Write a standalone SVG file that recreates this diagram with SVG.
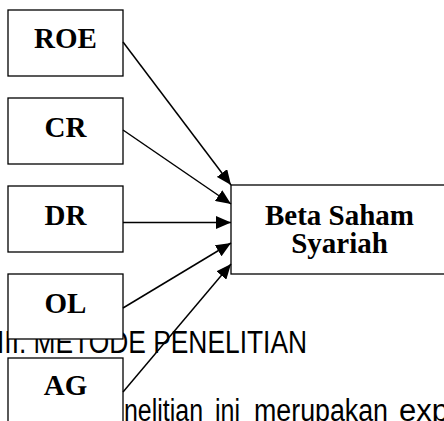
<svg xmlns="http://www.w3.org/2000/svg" width="444" height="421" viewBox="0 0 444 421">
  <defs>
    <marker id="arr" markerUnits="userSpaceOnUse" markerWidth="15" markerHeight="13" viewBox="0 0 15 13" refX="15" refY="6.5" orient="auto">
      <path d="M0,0 L15,6.5 L0,13 Z" fill="#000"/>
    </marker>
    <style>
      .box { fill: #fff; stroke: #000; stroke-width: 1.3; }
      .lbl { font-family: "Liberation Serif", "Times New Roman", serif; font-weight: bold; font-size: 29px; text-anchor: middle; fill: #000; }
      .doc { font-family: "Liberation Sans Narrow", "Liberation Sans", Arial, sans-serif; font-size: 31px; fill: #000; }
      .edge { stroke: #000; stroke-width: 1.5; fill: none; marker-end: url(#arr); }
    </style>
  </defs>
  <rect width="444" height="421" fill="#fff"/>

  <g id="page-text">
    <text class="doc" x="-3" y="353" textLength="310" lengthAdjust="spacingAndGlyphs">III. METODE PENELITIAN</text>
    <text class="doc" y="421"><tspan x="124" textLength="79" lengthAdjust="spacingAndGlyphs">nelitian</tspan><tspan x="215" textLength="25" lengthAdjust="spacingAndGlyphs">ini</tspan><tspan x="254" textLength="134" lengthAdjust="spacingAndGlyphs">merupakan</tspan><tspan x="399" textLength="50" lengthAdjust="spacingAndGlyphs">exp</tspan></text>
  </g>

  <g id="node-roe">
    <rect class="box" x="8" y="10" width="115" height="66"/>
    <text class="lbl" x="65.5" y="48">ROE</text>
  </g>
  <g id="node-cr">
    <rect class="box" x="8" y="98" width="115" height="66"/>
    <text class="lbl" x="65.5" y="137">CR</text>
  </g>
  <g id="node-dr">
    <rect class="box" x="8" y="186" width="115" height="66"/>
    <text class="lbl" x="65.5" y="225">DR</text>
  </g>
  <g id="node-ol">
    <rect class="box" x="8" y="274" width="115" height="65"/>
    <text class="lbl" x="65.5" y="313">OL</text>
  </g>
  <g id="node-ag">
    <rect class="box" x="8" y="358" width="115" height="70"/>
    <text class="lbl" x="65.5" y="395">AG</text>
  </g>
  <g id="node-beta">
    <rect class="box" x="231" y="185" width="218" height="89"/>
    <text class="lbl" x="339.5" y="225">Beta Saham</text>
    <text class="lbl" x="339.5" y="253">Syariah</text>
  </g>

  <g id="connectors">
    <line class="edge" x1="123" y1="42" x2="231" y2="185"/>
    <line class="edge" x1="123" y1="130" x2="231" y2="204"/>
    <line class="edge" x1="123" y1="222.5" x2="231" y2="222.5"/>
    <line class="edge" x1="123" y1="308" x2="231" y2="243"/>
    <line class="edge" x1="123" y1="392" x2="231" y2="264"/>
  </g>
</svg>
